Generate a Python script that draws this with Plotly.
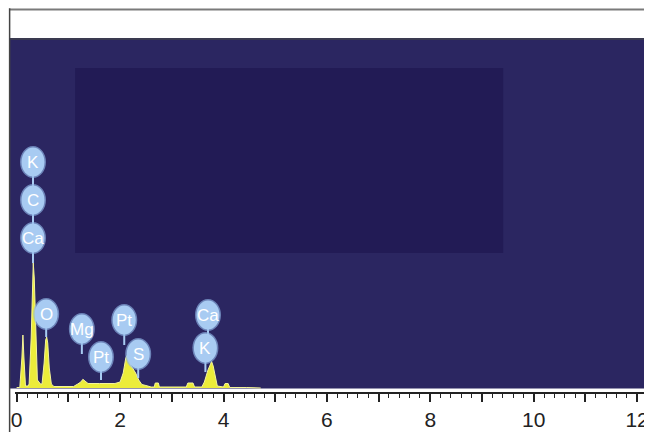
import plotly.graph_objects as go

# ---- data (energy in keV, counts in arbitrary units) ----
energy_kev = [0.00, 0.06, 0.10, 0.12, 0.14, 0.17, 0.22, 0.24, 0.28, 0.31, 0.32, 0.34, 0.37, 0.40,
              0.46, 0.49, 0.53, 0.56, 0.58, 0.60, 0.63, 0.67, 0.72, 1.10, 1.18, 1.24, 1.28, 1.33,
              1.38, 1.60, 1.90, 2.00, 2.06, 2.11, 2.14, 2.18, 2.25, 2.30, 2.36, 2.42, 2.50, 2.60,
              2.66, 2.68, 2.74, 2.76, 3.28, 3.31, 3.41, 3.44, 3.58, 3.63, 3.70, 3.74, 3.77, 3.80,
              3.84, 3.88, 4.00, 4.03, 4.09, 4.12, 4.45, 4.65, 4.72]
counts = [5, 5, 300, 530, 300, 20, 20, 40, 500, 1150, 1250, 1100, 450, 80,
          40, 40, 250, 480, 510, 450, 200, 40, 15, 15, 40, 60, 87, 70,
          45, 45, 45, 60, 150, 300, 330, 250, 190, 150, 80, 35, 25, 10,
          10, 50, 50, 10, 10, 50, 50, 10, 10, 60, 180, 240, 265, 220,
          100, 20, 10, 45, 45, 5, 5, 5, 0]

label_elements = ["K", "C", "Ca", "O", "Mg", "Pt", "Pt", "S", "Ca", "K"]
label_energy = [0.315, 0.315, 0.315, 0.57, 1.26, 1.63, 2.08, 2.35, 3.70, 3.65]
label_counts = [2260, 1880, 1500, 740, 590, 310, 680, 340, 730, 400]
label_tip_counts = [1880, 1500, 1250, 510, 340, 80, 430, 100, 400, 160]

tick_values = list(range(13))
tick_labels = ["0", "", "2", "", "4", "", "6", "", "8", "", "10", "", "12"]

NAVY = "#2b2661"
NAVY_IN = "#221b55"
BUBBLE = "#a8cbf2"
FONT = "Liberation Sans, Arial, sans-serif"

fig = go.Figure()
fig.add_trace(go.Scatter(
    x=energy_kev, y=counts, mode="lines", fill="tozeroy",
    fillcolor="#ecec3a", line=dict(color="#f4f49a", width=1),
    hoverinfo="skip", showlegend=False,
))

shapes = [
    # navy spectrum area
    dict(type="rect", xref="paper", yref="y", x0=-0.0085, x1=1.0, y0=-6, y1=3480,
         fillcolor=NAVY, line=dict(width=0), layer="below"),
    # darker inner window
    dict(type="rect", xref="x", yref="y", x0=1.13, x1=9.41, y0=1350, y1=3200,
         fillcolor=NAVY_IN, line=dict(width=0), layer="below"),
    # frame lines
    dict(type="line", xref="paper", yref="paper", x0=-0.0085, x1=1.02, y0=1.087, y1=1.087,
         line=dict(color="#7a7a7a", width=2)),
    dict(type="line", xref="paper", yref="paper", x0=-0.0085, x1=-0.0085, y0=1.09, y1=-0.12,
         line=dict(color="#444444", width=1.5)),
    dict(type="line", xref="paper", yref="paper", x0=-0.0085, x1=1.02, y0=1.003, y1=1.003,
         line=dict(color="#3a3a50", width=2)),
    dict(type="line", xref="paper", yref="paper", x0=1.0015, x1=1.0015, y0=1.003, y1=-0.12,
         line=dict(color="#222222", width=2)),
]

annotations = []
for el, e, c, tip in zip(label_elements, label_energy, label_counts, label_tip_counts):
    shapes.append(dict(type="line", xref="x", yref="y", x0=e, x1=e, y0=c, y1=tip,
                       line=dict(color=BUBBLE, width=2), layer="above"))
for el, e, c, tip in zip(label_elements, label_energy, label_counts, label_tip_counts):
    shapes.append(dict(type="circle", xref="x", yref="y", xsizemode="pixel", ysizemode="pixel",
                       xanchor=e, yanchor=c, x0=-13, x1=13, y0=-16, y1=16,
                       fillcolor="#8fb6e6", line=dict(width=0), layer="above", opacity=0.65))
    shapes.append(dict(type="circle", xref="x", yref="y", xsizemode="pixel", ysizemode="pixel",
                       xanchor=e, yanchor=c, x0=-11.5, x1=11.5, y0=-14.5, y1=14.5,
                       fillcolor=BUBBLE, line=dict(width=0), layer="above"))
    annotations.append(dict(x=e, y=c, xref="x", yref="y", text=el, showarrow=False,
                            font=dict(family=FONT, size=17, color="white")))

# the page body has an 8 px margin, so the figure is sized and placed to compensate
fig.update_layout(
    width=644, height=424,
    margin=dict(l=7, r=4, t=32, b=40, autoexpand=False),
    paper_bgcolor="white", plot_bgcolor="white",
    shapes=shapes, annotations=annotations,
    xaxis=dict(
        range=[-0.033, 12.211], showgrid=False, zeroline=False, automargin=False,
        showline=True, linecolor="#222222", linewidth=1.5,
        tickmode="array", tickvals=tick_values, ticktext=tick_labels,
        ticks="outside", ticklen=8, tickwidth=1.5, tickcolor="#222222",
        tickfont=dict(family=FONT, size=21, color="#222222"),
        minor=dict(dtick=0.2, tick0=0, ticks="outside", ticklen=4, tickwidth=1, tickcolor="#222222"),
    ),
    yaxis=dict(range=[-40, 3480], visible=False, automargin=False),
    showlegend=False,
)

fig.write_html("out.html")
